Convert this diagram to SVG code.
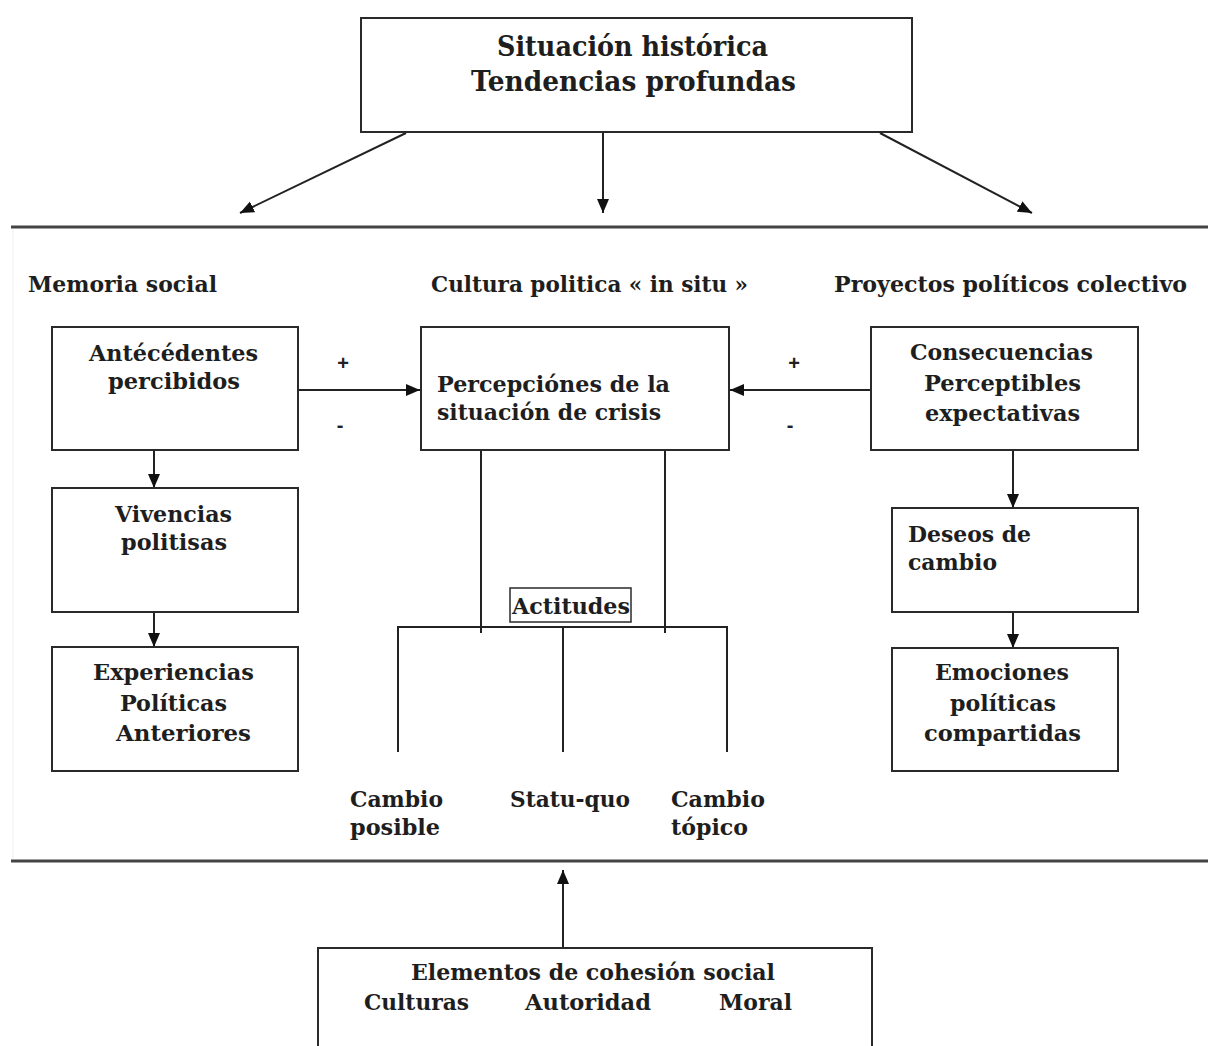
<svg xmlns="http://www.w3.org/2000/svg" width="1208" height="1046" viewBox="0 0 1208 1046">
<style>
.box{fill:#fff;stroke:#2a2a2a;stroke-width:2}
.t{font-family:"DejaVu Serif","Liberation Serif",serif;font-weight:bold;font-size:23px;fill:#1e1e1e}
.h{font-size:27px}
.s{font-family:"Liberation Sans",sans-serif;font-weight:bold;font-size:20px;fill:#222}
.ln{stroke:#222;stroke-width:2;fill:none}
.arr{stroke:#222;stroke-width:2;fill:none;marker-end:url(#ah)}
.sep{stroke:#444;stroke-width:3}
</style>
<defs>
<marker id="ah" markerUnits="userSpaceOnUse" markerWidth="16" markerHeight="14" refX="14" refY="6" orient="auto">
<path d="M0,0 L14,6 L0,12 Z" fill="#111"/>
</marker>
</defs>
<rect width="1208" height="1046" fill="#fff"/>

<g id="separators">
<line class="sep" x1="11" y1="227" x2="1208" y2="227"/>
<line class="sep" x1="11" y1="861" x2="1208" y2="861"/>
<line x1="13" y1="229" x2="13" y2="859" stroke="#eeeeee" stroke-width="1"/>
</g>

<g id="section-labels">
<text class="t" x="28" y="292" textLength="189" lengthAdjust="spacingAndGlyphs">Memoria social</text>
<text class="t" x="431" y="292" textLength="317" lengthAdjust="spacingAndGlyphs">Cultura politica « in situ »</text>
<text class="t" x="834" y="292" textLength="353" lengthAdjust="spacingAndGlyphs">Proyectos políticos colectivo</text>
</g>

<g id="connectors">
<line class="arr" x1="406" y1="133" x2="240" y2="213"/>
<line class="arr" x1="603" y1="133" x2="603" y2="213"/>
<line class="arr" x1="880" y1="133" x2="1032" y2="213"/>
<line class="arr" x1="298" y1="390" x2="420" y2="390"/>
<line class="arr" x1="871" y1="390" x2="730" y2="390"/>
<line class="arr" x1="154" y1="450" x2="154" y2="488"/>
<line class="arr" x1="154" y1="612" x2="154" y2="647"/>
<line class="arr" x1="1013" y1="450" x2="1013" y2="508"/>
<line class="arr" x1="1013" y1="612" x2="1013" y2="648"/>
<line class="ln" x1="481" y1="450" x2="481" y2="633"/>
<line class="ln" x1="665" y1="450" x2="665" y2="633"/>
<path class="ln" d="M398,752 V627 H727 V752"/>
<line class="ln" x1="563" y1="627" x2="563" y2="752"/>
<line class="arr" x1="563" y1="948" x2="563" y2="870"/>
<text class="s" x="343" y="370" text-anchor="middle">+</text>
<text class="s" x="340" y="432" text-anchor="middle">-</text>
<text class="s" x="794" y="370" text-anchor="middle">+</text>
<text class="s" x="790" y="432" text-anchor="middle">-</text>
</g>

<g id="situacion">
<rect class="box" x="361" y="18" width="551" height="114"/>
<text class="t h" x="497" y="56" textLength="271" lengthAdjust="spacingAndGlyphs">Situación histórica</text>
<text class="t h" x="471" y="91" textLength="325" lengthAdjust="spacingAndGlyphs">Tendencias profundas</text>
</g>

<g id="antecedentes">
<rect class="box" x="52" y="327" width="246" height="123"/>
<text class="t" x="89" y="361" textLength="169" lengthAdjust="spacingAndGlyphs">Antécédentes</text>
<text class="t" x="108" y="389" textLength="132" lengthAdjust="spacingAndGlyphs">percibidos</text>
</g>

<g id="vivencias">
<rect class="box" x="52" y="488" width="246" height="124"/>
<text class="t" x="115" y="522" textLength="117" lengthAdjust="spacingAndGlyphs">Vivencias</text>
<text class="t" x="121" y="550" textLength="106" lengthAdjust="spacingAndGlyphs">politisas</text>
</g>

<g id="experiencias">
<rect class="box" x="52" y="647" width="246" height="124"/>
<text class="t" x="93" y="680" textLength="161" lengthAdjust="spacingAndGlyphs">Experiencias</text>
<text class="t" x="120" y="711" textLength="107" lengthAdjust="spacingAndGlyphs">Políticas</text>
<text class="t" x="116" y="741" textLength="135" lengthAdjust="spacingAndGlyphs">Anteriores</text>
</g>

<g id="percepciones">
<rect class="box" x="421" y="327" width="308" height="123"/>
<text class="t" x="437" y="392" textLength="233" lengthAdjust="spacingAndGlyphs">Percepciónes de la</text>
<text class="t" x="437" y="420" textLength="224" lengthAdjust="spacingAndGlyphs">situación de crisis</text>
</g>

<g id="actitudes">
<rect x="510" y="588" width="121" height="34" fill="#fff" stroke="#2a2a2a" stroke-width="1.5"/>
<text class="t" x="512" y="614" textLength="118" lengthAdjust="spacingAndGlyphs">Actitudes</text>
</g>

<g id="cambio-posible">
<text class="t" x="350" y="807" textLength="93" lengthAdjust="spacingAndGlyphs">Cambio</text>
<text class="t" x="350" y="835" textLength="90" lengthAdjust="spacingAndGlyphs">posible</text>
</g>
<g id="statu-quo">
<text class="t" x="510" y="807" textLength="120" lengthAdjust="spacingAndGlyphs">Statu-quo</text>
</g>
<g id="cambio-topico">
<text class="t" x="671" y="807" textLength="94" lengthAdjust="spacingAndGlyphs">Cambio</text>
<text class="t" x="671" y="835" textLength="77" lengthAdjust="spacingAndGlyphs">tópico</text>
</g>

<g id="consecuencias">
<rect class="box" x="871" y="327" width="267" height="123"/>
<text class="t" x="910" y="360" textLength="183" lengthAdjust="spacingAndGlyphs">Consecuencias</text>
<text class="t" x="924" y="391" textLength="157" lengthAdjust="spacingAndGlyphs">Perceptibles</text>
<text class="t" x="925" y="421" textLength="155" lengthAdjust="spacingAndGlyphs">expectativas</text>
</g>

<g id="deseos">
<rect class="box" x="892" y="508" width="246" height="104"/>
<text class="t" x="908" y="542" textLength="123" lengthAdjust="spacingAndGlyphs">Deseos de</text>
<text class="t" x="908" y="570" textLength="89" lengthAdjust="spacingAndGlyphs">cambio</text>
</g>

<g id="emociones">
<rect class="box" x="892" y="648" width="226" height="123"/>
<text class="t" x="935" y="680" textLength="134" lengthAdjust="spacingAndGlyphs">Emociones</text>
<text class="t" x="950" y="711" textLength="106" lengthAdjust="spacingAndGlyphs">políticas</text>
<text class="t" x="924" y="741" textLength="157" lengthAdjust="spacingAndGlyphs">compartidas</text>
</g>

<g id="cohesion">
<rect class="box" x="318" y="948" width="554" height="120"/>
<text class="t" x="411" y="980" textLength="364" lengthAdjust="spacingAndGlyphs">Elementos de cohesión social</text>
<text class="t" x="364" y="1010" textLength="105" lengthAdjust="spacingAndGlyphs">Culturas</text>
<text class="t" x="525" y="1010" textLength="126" lengthAdjust="spacingAndGlyphs">Autoridad</text>
<text class="t" x="719" y="1010" textLength="73" lengthAdjust="spacingAndGlyphs">Moral</text>
</g>
</svg>
